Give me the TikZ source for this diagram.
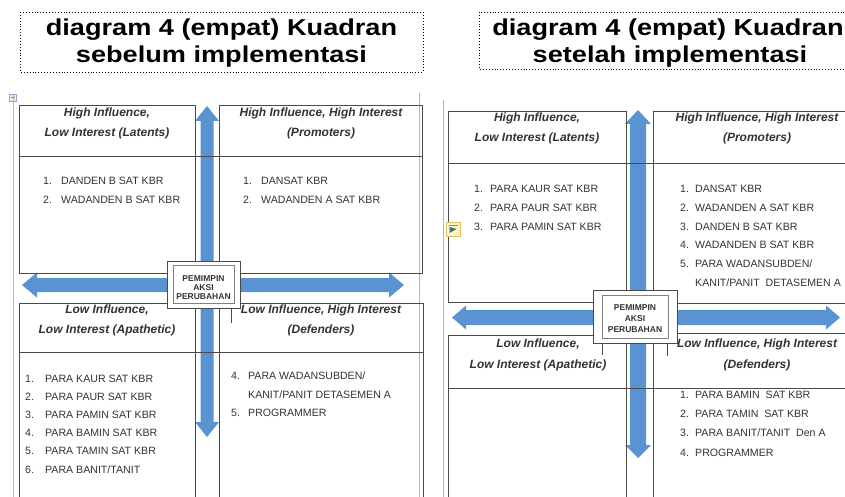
\documentclass[tikz,border=0pt]{standalone}
\usepackage{fontspec}
\setmainfont{Liberation Sans}
\newfontfamily\titlefont[FakeStretch=1.18]{Liberation Sans}
\definecolor{arrowblue}{HTML}{5A93D1}
\definecolor{boxline}{HTML}{4A4A4A}
\definecolor{outerline}{HTML}{B5B5B5}
\definecolor{txt}{HTML}{333333}
\definecolor{iconfill}{HTML}{E0ECF8}
\definecolor{iconedge}{HTML}{8AA8C8}
\definecolor{notefill}{HTML}{FFF4C0}
\definecolor{noteedge}{HTML}{E0C060}
\newcommand\qentry[6]{\node[num] (#1n) at (#2,#4) {#5}; \node[itm] (#1t) at (#3,#4) {#6};}
\tikzset{
  quad/.style={draw=boxline, line width=0.8pt},
  outer/.style={draw=outerline, line width=0.8pt},
  titlebox/.style={draw=black, dotted, line width=0.9pt},
  hdr/.style={font=\fontsize{12}{14}\selectfont\bfseries\itshape, text=txt, anchor=base, inner sep=0pt},
  num/.style={font=\fontsize{10.6}{12}\selectfont, text=txt, anchor=base west, inner sep=0pt},
  itm/.style={font=\fontsize{10.6}{12}\selectfont, text=txt, anchor=base west, inner sep=0pt},
  ttl/.style={font=\titlefont\bfseries\fontsize{23}{26}\selectfont, anchor=base, inner sep=0pt},
  lead/.style={font=\fontsize{8.5}{9}\selectfont\bfseries, text=txt, anchor=base, inner sep=0pt},
  leadbox/.style={draw=boxline, fill=white, line width=0.8pt, inner sep=0pt},
  leadinner/.style={draw=gray, line width=0.6pt, inner sep=0pt},
  blockarrow/.style={fill=arrowblue}
}
\begin{document}
\begin{tikzpicture}[x=1pt, y=-1pt]
\useasboundingbox (0,0) rectangle (845,497);
\clip (0,0) rectangle (845,497);
\fill[white] (0,0) rectangle (845,497);

% ================= LEFT DIAGRAM =================
\draw[titlebox] (20,12) rectangle (423,72);
\node[ttl] (ltitle1) at (221.5,36) {diagram 4 (empat) Kuadran};
\node[ttl] (ltitle2) at (221.5,63) {sebelum implementasi};

% table handle icon
\draw[fill=iconfill, draw=iconedge, line width=0.5pt] (9.5,94) rectangle (16.5,101);
\draw[arrowblue, line width=0.8pt] (13,95.5) -- (13,99.5) (11,97.5) -- (15,97.5);

\draw[outer] (13,95) -- (13,497);
\draw[outer] (419,93) -- (419,497);

% arrows
\fill[blockarrow] (22,285) -- (37,272.5) -- (37,278) -- (389,278) -- (389,272.5) -- (404,285)
  -- (389,297.5) -- (389,292) -- (37,292) -- (37,297.5) -- cycle;
\fill[blockarrow] (207,106) -- (219,121) -- (213.5,121) -- (213.5,422) -- (219,422) -- (207,437)
  -- (195,422) -- (200.5,422) -- (200.5,121) -- (195,121) -- cycle;

% quadrant boxes
\draw[quad] (19,105) rectangle (195,273);
\draw[quad] (219,105) rectangle (422,273);
\draw[quad] (19,303) rectangle (195,505);
\draw[quad] (219,303) rectangle (423,505);
\draw[quad] (19,156) -- (422,156);
\draw[quad] (19,352) -- (423,352);
\draw[quad] (231,303) -- (231,323);

% centre box
\node[leadbox, minimum width=73pt, minimum height=47pt] (lbox) at (203.5,284.5) {};
\node[leadinner, minimum width=61pt, minimum height=38pt] (lboxin) at (203.5,284) {};
\node[lead] (lb1) at (203.5,281) {PEMIMPIN};
\node[lead] (lb2) at (203.5,290) {AKSI};
\node[lead] (lb3) at (203.5,299) {PERUBAHAN};

% headers
\node[hdr] (lh1a) at (107,117) {High Influence,};
\node[hdr] (lh1b) at (107,137) {Low Interest (Latents)};
\node[hdr] (lh2a) at (321,117) {High Influence, High Interest};
\node[hdr] (lh2b) at (321,137) {(Promoters)};
\node[hdr] (lh3a) at (107,313) {Low Influence,};
\node[hdr] (lh3b) at (107,333) {Low Interest (Apathetic)};
\node[hdr] (lh4a) at (321,313) {Low Influence, High Interest};
\node[hdr] (lh4b) at (321,333) {(Defenders)};

% lists
\qentry{la1}{43}{61}{184}{1.}{DANDEN B SAT KBR}
\qentry{la2}{43}{61}{203}{2.}{WADANDEN B SAT KBR}
\qentry{lb1}{243}{261}{184}{1.}{DANSAT KBR}
\qentry{lb2}{243}{261}{203}{2.}{WADANDEN A SAT KBR}
\qentry{lc1}{25}{45}{382}{1.}{PARA KAUR SAT KBR}
\qentry{lc2}{25}{45}{400.2}{2.}{PARA PAUR SAT KBR}
\qentry{lc3}{25}{45}{418.4}{3.}{PARA PAMIN SAT KBR}
\qentry{lc4}{25}{45}{436.6}{4.}{PARA BAMIN SAT KBR}
\qentry{lc5}{25}{45}{454.8}{5.}{PARA TAMIN SAT KBR}
\qentry{lc6}{25}{45}{473}{6.}{PARA BANIT/TANIT}
\qentry{ld4}{231}{248}{379}{4.}{PARA WADANSUBDEN/}
\node[itm] (ld4b) at (248,398) {KANIT/PANIT DETASEMEN A};
\qentry{ld5}{231}{248}{416}{5.}{PROGRAMMER}

% ================= RIGHT DIAGRAM =================
\draw[titlebox] (479,12) rectangle (870,69);
\node[ttl] (rtitle1) at (668,36) {diagram 4 (empat) Kuadran};
\node[ttl] (rtitle2) at (670,63) {setelah implementasi};

\draw[outer] (443,100) -- (443,497);

% arrows
\fill[blockarrow] (452,317.5) -- (466,305.5) -- (466,310) -- (826,310) -- (826,305.5) -- (840,317.5)
  -- (826,329.5) -- (826,325) -- (466,325) -- (466,329.5) -- cycle;
\fill[blockarrow] (638,110) -- (651,124) -- (646,124) -- (646,445) -- (651,445) -- (638,458)
  -- (625,445) -- (630,445) -- (630,124) -- (625,124) -- cycle;

% quadrant boxes
\draw[quad] (448,111) rectangle (626,302);
\draw[quad] (653,111) rectangle (870,303);
\draw[quad] (448,335) rectangle (626,505);
\draw[quad] (653,333) rectangle (870,505);
\draw[quad] (448,163) -- (870,163);
\draw[quad] (448,388) -- (870,388);
\draw[quad] (602,335) -- (602,355);
\draw[quad] (667,333) -- (667,356);

% note icon
\draw[fill=notefill, draw=noteedge, line width=0.6pt] (446,222) rectangle (460,236);
\draw[arrowblue, line width=1pt] (448.5,225) -- (457.5,225);
\fill[arrowblue!70!black] (449.5,227) -- (456.5,229) -- (449.5,233) -- cycle;

% centre box
\node[leadbox, minimum width=84pt, minimum height=53pt] (rbox) at (635,316.5) {};
\node[leadinner, minimum width=66pt, minimum height=43pt] (rboxin) at (635,316.5) {};
\node[lead] (rb1) at (635,310) {PEMIMPIN};
\node[lead] (rb2) at (635,321) {AKSI};
\node[lead] (rb3) at (635,332) {PERUBAHAN};

% headers
\node[hdr] (rh1a) at (537,122) {High Influence,};
\node[hdr] (rh1b) at (537,142) {Low Interest (Latents)};
\node[hdr] (rh2a) at (757,122) {High Influence, High Interest};
\node[hdr] (rh2b) at (757,142) {(Promoters)};
\node[hdr] (rh3a) at (538,347) {Low Influence,};
\node[hdr] (rh3b) at (538,368) {Low Interest (Apathetic)};
\node[hdr] (rh4a) at (757,347) {Low Influence, High Interest};
\node[hdr] (rh4b) at (757,368) {(Defenders)};

% lists
\qentry{ra1}{474}{490}{192}{1.}{PARA KAUR SAT KBR}
\qentry{ra2}{474}{490}{211}{2.}{PARA PAUR SAT KBR}
\qentry{ra3}{474}{490}{230}{3.}{PARA PAMIN SAT KBR}
\qentry{rb1}{680}{695}{192}{1.}{DANSAT KBR}
\qentry{rb2}{680}{695}{211}{2.}{WADANDEN A SAT KBR}
\qentry{rb3}{680}{695}{230}{3.}{DANDEN B SAT KBR}
\qentry{rb4}{680}{695}{248.5}{4.}{WADANDEN B SAT KBR}
\qentry{rb5}{680}{695}{267}{5.}{PARA WADANSUBDEN/}
\node[itm] (rb5b) at (695,286) {KANIT/PANIT\ \ DETASEMEN A};
\qentry{rd1}{680}{695}{398}{1.}{PARA BAMIN\ \ SAT KBR}
\qentry{rd2}{680}{695}{417}{2.}{PARA TAMIN\ \ SAT KBR}
\qentry{rd3}{680}{695}{436.5}{3.}{PARA BANIT/TANIT\ \ Den A}
\qentry{rd4}{680}{695}{456}{4.}{PROGRAMMER}
\end{tikzpicture}
\end{document}
